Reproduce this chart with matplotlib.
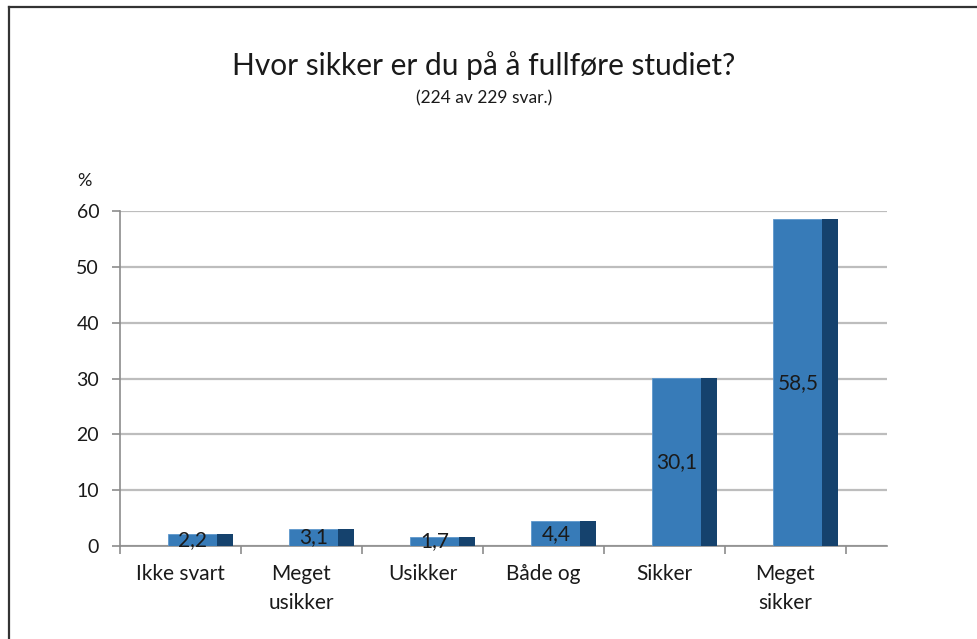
import numpy as np
import matplotlib
matplotlib.use('Agg')
import matplotlib.pyplot as plt
from matplotlib.lines import Line2D

# Data  ************************************************************************
categories = ['Ikke svart', 'Meget\nusikker', 'Usikker', 'Både og', 'Sikker', 'Meget\nsikker']
values = [2.2, 3.1, 1.7, 4.4, 30.1, 58.5]
yticks = [0, 10, 20, 30, 40, 50, 60]

title = 'Hvor sikker er du på å fullføre studiet?'
subtitle = '(224 av 229 svar.)'

front_color = '#377bb8'
side_color = '#15426d'
grid_color = '#bdbdbd'
axis_color = '#8c8c8c'
text_color = '#1a1a1a'

plt.rcParams['font.family'] = ['Lato', 'DejaVu Sans']

W, H = 978, 639
fig = plt.figure(figsize=(W / 100, H / 100), dpi=100)
fig.patch.set_facecolor('white')

# axes placed in pixel terms
x0, x1, y0, y1 = 120, 887, 546, 211
ax = fig.add_axes([x0 / W, 1 - y0 / H, (x1 - x0) / W, (y0 - y1) / H])

n = len(categories)
pos = np.arange(n)
front_left = 0.40
front_w = 0.405
side_w = 0.13

# bars: front face + darker side face
ax.bar(pos + front_left, values, width=front_w, align='edge', color=front_color,
       edgecolor='#5e97cc', linewidth=0.6, zorder=3)
ax.bar(pos + front_left + front_w, values, width=side_w, align='edge', color=side_color,
       linewidth=0, zorder=3)

for p, v in zip(pos, values):
    ax.text(p + front_left + front_w / 2, v / 2, f'{v:.1f}'.replace('.', ','),
            ha='center', va='center', fontsize=15, color=text_color, zorder=4)

ax.set_xlim(0, (x1 - x0) / 121)
ax.set_ylim(0, 60)

ax.set_yticks(yticks)
ax.set_yticklabels([str(t) for t in yticks])
ax.yaxis.grid(True, color=grid_color, linewidth=1.6, zorder=0)
ax.set_axisbelow(True)

ax.set_xticks(np.arange(n + 1))
ax.set_xticklabels([])
ax.set_xticks(pos + 0.5, minor=True)
ax.set_xticklabels(categories, minor=True, fontsize=15, color=text_color,
                   linespacing=1.55, va='top')
ax.tick_params(axis='x', which='minor', length=0, pad=13)
ax.tick_params(axis='x', which='major', length=6, width=1.2, color=axis_color)
ax.tick_params(axis='y', length=6, width=1.2, color=axis_color, labelsize=14,
               labelcolor=text_color, pad=9)

for s in ['top', 'right']:
    ax.spines[s].set_visible(False)
for s in ['left', 'bottom']:
    ax.spines[s].set_color(axis_color)
    ax.spines[s].set_linewidth(1.2)

# texts
fig.text(484 / W, 1 - 66 / H, title, ha='center', va='center', fontsize=21.5, color=text_color)
fig.text(484 / W, 1 - 98 / H, subtitle, ha='center', va='center', fontsize=12.5, color=text_color)
fig.text(84 / W, 1 - 181 / H, '%', ha='center', va='center', fontsize=13, color=text_color)

# chart border (left and top)
fig.add_artist(Line2D([8.5 / W, 8.5 / W], [0, 1 - 7 / H], transform=fig.transFigure,
                      color='#333333', linewidth=1.6))
fig.add_artist(Line2D([8.5 / W, 1], [1 - 7 / H, 1 - 7 / H], transform=fig.transFigure,
                      color='#333333', linewidth=1.6))

fig.savefig('out.png', dpi=100)
